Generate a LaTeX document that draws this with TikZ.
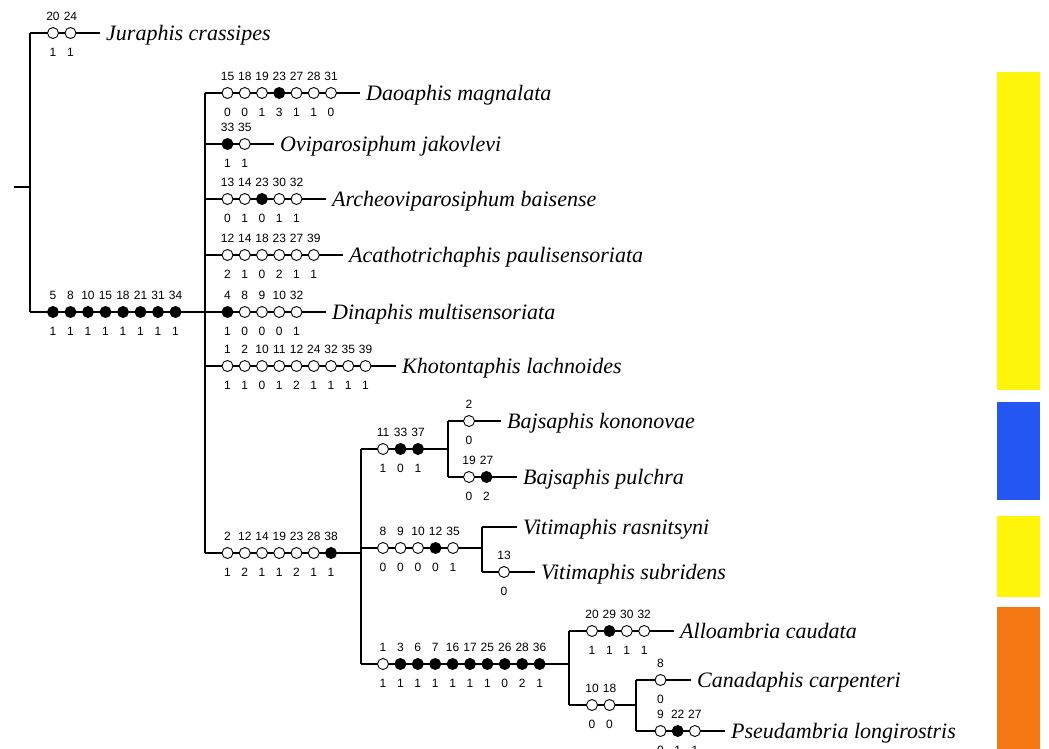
\documentclass[tikz,border=0pt]{standalone}
\usepackage{fontspec}
\setmainfont{Liberation Serif}
\setsansfont{Liberation Sans}
\definecolor{cyel}{HTML}{FFF50A}
\definecolor{cblu}{HTML}{2356F2}
\definecolor{cora}{HTML}{F47814}
% #1 prefix, #2 x start, #3 step, #4 y, #5 list num/state/style
\newcommand\crow[5]{%
 \foreach \cn/\cs/\ct [count=\ci] in {#5} {%
  \node[\ct] (#1\ci) at ({#2+(\ci-1)*#3},#4) {};
  \node[num] (#1a\ci) at ({#2+(\ci-1)*#3},{#4-16.5}) {\cn};
  \node[num] (#1b\ci) at ({#2+(\ci-1)*#3},{#4+19}) {\cs};
 }}
\begin{document}
\begin{tikzpicture}[x=1pt,y=-1pt,
 br/.style={line width=1.1pt},
 oc/.style={circle,draw,line width=0.9pt,minimum size=11pt,inner sep=0pt,fill=white},
 fc/.style={oc,fill=black},
 num/.style={font=\sffamily\fontsize{12}{13}\selectfont,inner sep=0pt},
 taxon/.style={font=\itshape\fontsize{22}{24}\selectfont,anchor=west,inner sep=0pt,text height=15pt,text depth=0pt}]
\useasboundingbox (0,0) rectangle (1049,749);
% colour bars
\fill[cyel] (997,72) rectangle (1040,390);
\fill[cblu] (997,402) rectangle (1040,500);
\fill[cyel] (997,516) rectangle (1040,597);
\fill[cora] (997,607) rectangle (1040,749);
% taxa
\node[taxon] (jur) at (106,33) {Juraphis crassipes};
\node[taxon] (dao) at (366,93) {Daoaphis magnalata};
\node[taxon] (ovi) at (280,144) {Oviparosiphum jakovlevi};
\node[taxon] (arc) at (332,199) {Archeoviparosiphum baisense};
\node[taxon] (aca) at (349,255) {Acathotrichaphis paulisensoriata};
\node[taxon] (din) at (332,312) {Dinaphis multisensoriata};
\node[taxon] (kho) at (402,366) {Khotontaphis lachnoides};
\node[taxon] (kon) at (507,421) {Bajsaphis kononovae};
\node[taxon] (pul) at (523,477) {Bajsaphis pulchra};
\node[taxon] (ras) at (523,527) {Vitimaphis rasnitsyni};
\node[taxon] (sbr) at (541,572) {Vitimaphis subridens};
\node[taxon] (all) at (680,631) {Alloambria caudata};
\node[taxon] (can) at (697,680) {Canadaphis carpenteri};
\node[taxon] (pse) at (731,731) {Pseudambria longirostris};
% internal nodes
\coordinate (rt) at (14,187);
\coordinate (n0) at (30,187);
\coordinate (n1) at (205,312);
\coordinate (n2) at (361,553);
\coordinate (n3) at (448,449);
\coordinate (n4) at (482,548);
\coordinate (n5) at (569,664);
\coordinate (n6) at (636,705);
% branches
\draw[br] (rt) -- (n0);
\draw[br] (n0 |- jur.west) -- (n0 |- n1);
\draw[br] (n0 |- jur.west) -- ([xshift=-6pt]jur.west);
\draw[br] (n0 |- n1) -- (n1);
\draw[br] (n1 |- dao.west) -- (n1 |- n2);
\foreach \t in {dao,ovi,arc,aca,din,kho}{\draw[br] (n1 |- \t.west) -- ([xshift=-6pt]\t.west);}
\draw[br] (n1 |- n2) -- (n2);
\draw[br] (n2 |- n3) -- (n2 |- n5);
\draw[br] (n2 |- n3) -- (n3);
\draw[br] (n2 |- n4) -- (n4);
\draw[br] (n2 |- n5) -- (n5);
\draw[br] (n3 |- kon.west) -- (n3 |- pul.west);
\foreach \t in {kon,pul}{\draw[br] (n3 |- \t.west) -- ([xshift=-6pt]\t.west);}
\draw[br] (n4 |- ras.west) -- (n4 |- sbr.west);
\foreach \t in {ras,sbr}{\draw[br] (n4 |- \t.west) -- ([xshift=-6pt]\t.west);}
\draw[br] (n5 |- all.west) -- (n5 |- n6);
\draw[br] (n5 |- all.west) -- ([xshift=-6pt]all.west);
\draw[br] (n5 |- n6) -- (n6);
\draw[br] (n6 |- can.west) -- (n6 |- pse.west);
\foreach \t in {can,pse}{\draw[br] (n6 |- \t.west) -- ([xshift=-6pt]\t.west);}
% character states
\crow{cj}{53}{17.5}{33}{20/1/oc,24/1/oc}
\crow{cb}{53}{17.5}{312}{5/1/fc,8/1/fc,10/1/fc,15/1/fc,18/1/fc,21/1/fc,31/1/fc,34/1/fc}
\crow{cd}{227.5}{17.25}{93}{15/0/oc,18/0/oc,19/1/oc,23/3/fc,27/1/oc,28/1/oc,31/0/oc}
\crow{co}{227.5}{17.25}{144}{33/1/fc,35/1/oc}
\crow{ca}{227.5}{17.25}{199}{13/0/oc,14/1/oc,23/0/fc,30/1/oc,32/1/oc}
\crow{cc}{227.5}{17.25}{255}{12/2/oc,14/1/oc,18/0/oc,23/2/oc,27/1/oc,39/1/oc}
\crow{ci}{227.5}{17.25}{312}{4/1/fc,8/0/oc,9/0/oc,10/0/oc,32/1/oc}
\crow{ck}{227.5}{17.25}{366}{1/1/oc,2/1/oc,10/0/oc,11/1/oc,12/2/oc,24/1/oc,32/1/oc,35/1/oc,39/1/oc}
\crow{cl}{227.5}{17.25}{553}{2/1/oc,12/2/oc,14/1/oc,19/1/oc,23/2/oc,28/1/oc,38/1/fc}
\crow{cs}{383}{17.5}{449}{11/1/oc,33/0/fc,37/1/fc}
\crow{cn}{469}{17.5}{421}{2/0/oc}
\crow{cp}{469}{17.5}{477}{19/0/oc,27/2/fc}
\crow{cv}{383}{17.5}{548}{8/0/oc,9/0/oc,10/0/oc,12/0/fc,35/1/oc}
\crow{cu}{504}{17.5}{572}{13/0/oc}
\crow{cm}{383}{17.4}{664}{1/1/oc,3/1/fc,6/1/fc,7/1/fc,16/1/fc,17/1/fc,25/1/fc,26/0/fc,28/2/fc,36/1/fc}
\crow{cx}{592}{17.4}{631}{20/1/oc,29/1/fc,30/1/oc,32/1/oc}
\crow{cy}{592}{17.5}{705}{10/0/oc,18/0/oc}
\crow{cz}{660.5}{17.5}{680}{8/0/oc}
\crow{cw}{660.5}{17.2}{731}{9/0/oc,22/1/fc,27/1/oc}
\end{tikzpicture}
\end{document}
